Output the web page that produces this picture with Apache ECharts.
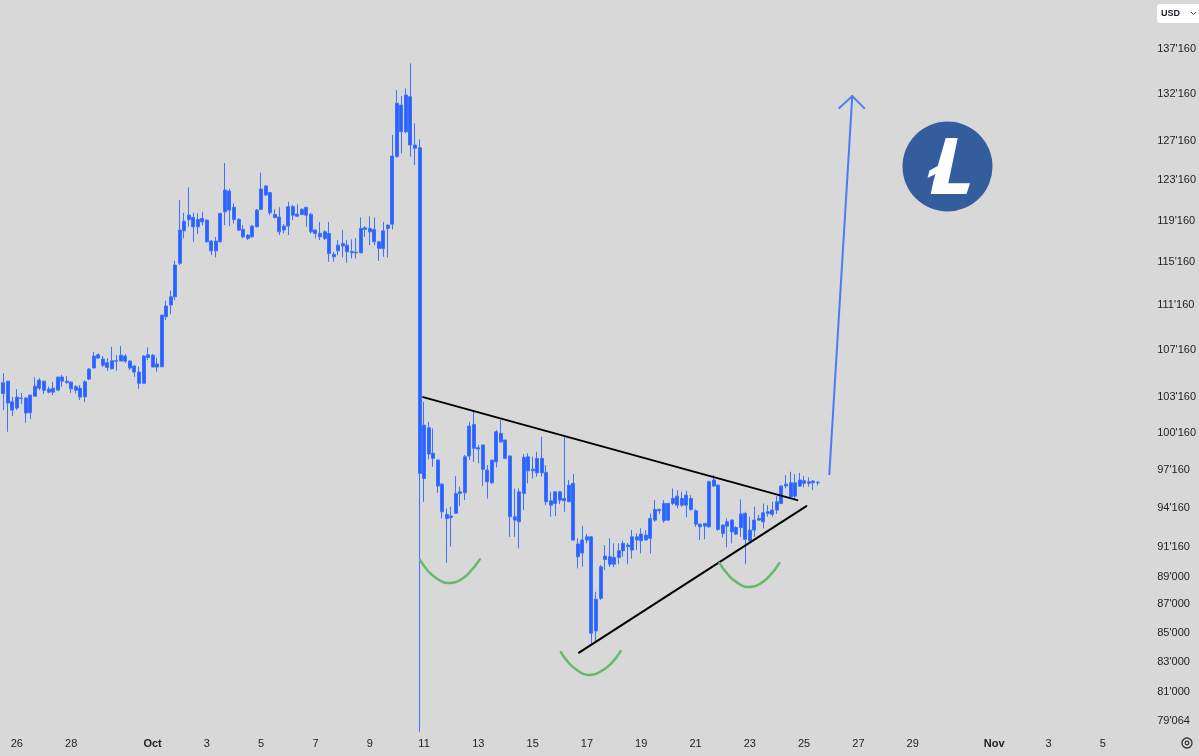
<!DOCTYPE html>
<html><head><meta charset="utf-8">
<script src="https://cdn.jsdelivr.net/npm/echarts@6/dist/echarts.min.js"></script>
<style>html,body{margin:0;padding:0;background:#d8d8d8;}#c{width:1199px;height:756px;}</style>
</head><body><div id="c"></div>
<script>
// ---- time slots (4-hour candles) ----
const slotStartUTC = Date.UTC(2025, 8, 25, 12); // Sep 25, 12:00
const slotHours = 4;
const slotCount = 252;

// ---- candles: [open, close, low, high] ----
const candles = [
[104330,103420,102020,105160],[104470,102610,100220,104470],[102720,102020,101520,103130],[102190,103110,102020,103790],
[103030,103000,102520,103470],[103030,101770,100960,103130],[101800,103280,101270,103280],[103190,104040,103190,104790],
[103870,104560,103700,104730],[104470,103700,103370,104470],[103790,103530,103420,103990],[103530,103870,103280,104390],
[103700,104820,103700,104820],[104820,104470,103990,104990],[104470,104330,104280,104900],[104390,103810,103470,104390],
[103990,103700,103420,104130],[103870,103110,102860,104130],[103130,104410,102690,104560],[104650,105510,104560,105600],
[105600,106640,105600,107010],[106460,106750,106440,106870],[106380,105850,105680,106640],[106060,105650,105360,106460],
[105530,106230,105480,107450],[106230,106190,105360,106720],[106200,106720,106200,107510],[106640,106200,106030,106810],
[106200,105600,105420,106290],[105770,105250,104840,105850],[105250,104280,103810,105710],[104280,106640,104280,106720],
[106520,106750,106290,107390],[106720,105680,105680,106810],[105680,105940,105280,106490],[105710,110280,105710,110280],
[110130,111100,109830,111590],[111190,111950,110350,112510],[111950,114900,111650,115300],[115060,118240,114900,121190],
[118170,119110,117440,119930],[119280,119700,118560,122460],[119470,118560,117110,119930],[118560,119280,117850,119870],
[119380,119040,118720,120030],[119210,117110,117050,119300],[117180,116250,115840,117270],[116250,117180,115620,117590],
[117110,119870,117050,119930],[120030,122190,118720,124920],[122090,120200,118630,122300],[120470,119280,118880,120870],
[119280,118240,118150,119400],[118310,117590,117440,118720],[117760,117440,117270,117850],[117590,118630,117500,118720],
[118560,120200,118500,120300],[120270,122290,120200,123940],[121690,122590,121590,122690],[121920,119930,119700,122000],
[119770,119470,119380,120270],[119530,118070,117760,120470],[118240,118630,117950,118820],[118630,120530,117760,121020],
[120530,119700,119210,120700],[119600,119800,119530,120770],[119770,120270,119700,120370],[120470,119700,118560,120500],
[119770,118070,117920,119930],[118240,117920,117440,118300],[117920,117590,117270,119040],[117440,118070,117270,118240],
[117920,116000,115210,119040],[115910,115680,115210,116150],[116250,116790,115840,117270],[116700,116950,115620,118240],
[116790,116150,115120,117270],[116190,116060,115530,117340],[116060,116120,115530,117460],[116060,118400,116000,119470],
[118310,118460,117590,118630],[118400,118070,116790,119600],[118310,117110,116790,119470],[117110,116480,115300,117110],
[116480,118170,115680,119040],[118400,118720,115620,118800],[118820,125640,118310,127830],[125570,131190,125500,132630],
[131000,128170,125920,131970],[128170,132090,128000,132810],[131900,126780,125570,135560],[126780,126440,124720,129050],
[126500,96860,78370,127370],[96460,100770,94630,102720],[100550,98410,97980,101050],[98470,98060,97380,100500],
[97920,95860,95330,97980],[96010,93860,93350,96100],[93660,93350,90010,94120],[93400,93530,91210,94240],
[93740,95280,93700,96640],[95280,95410,94290,95810],[95330,98190,94760,98330],[98250,100690,97920,101050],
[100830,98870,97780,102020],[98920,98810,97660,99140],[99140,97180,95860,99200],[97120,96200,94890,97520],
[96120,97920,96010,97950],[97780,100220,97330,100360],[100090,99400,99300,101190],[99540,98060,97980,99600],
[98250,93480,91950,98300],[93480,93220,91950,95670],[93090,95410,91090,95670],[95280,98140,93990,98410],
[98190,97060,96070,98470],[97060,97200,96460,98190],[96900,98060,96590,98590],[98060,96900,96590,99810],
[96940,94630,94370,97520],[94710,94370,93480,95410],[94500,95410,93530,95450],[95410,94760,94450,95450],
[94710,94890,93860,99790],[94630,95930,94600,96330],[96070,91710,91650,96800],[91410,90460,89600,91840],
[90740,91710,89720,92760],[91710,91950,91460,92160],[91950,84960,84260,92000],[85120,87360,84300,87900],
[87430,89720,87310,89850],[90260,90510,89480,91330],[90460,89910,89720,91840],[89910,90410,89680,91460],
[90410,90910,89910,91460],[90910,91460,90460,91660],[91330,91210,89910,91480],[90960,91950,90330,92460],
[91950,91710,90960,92210],[91660,92160,90710,92590],[92080,91710,91660,92460],[91840,93350,90710,93740],
[93220,94040,93090,94760],[94040,93940,93690,94100],[94500,93170,93020,94760],[93220,94500,93150,94550],
[94500,94890,94370,95670],[95070,94370,94120,95540],[94370,94890,94240,95410],[94370,95150,93430,95490],
[94890,94040,93940,95150],[93940,92910,92710,94040],[92910,92710,91710,92970],[92760,92970,91760,93000],
[92710,96200,92650,96280],[95860,96330,95800,96720],[95930,92510,92400,96000],[92840,92210,91900,92900],
[92760,93090,91160,93350],[93220,92330,91460,93270],[92160,92660,92080,92760],[92660,93690,91950,94810],
[93740,91760,89910,93860],[91660,92460,91580,93480],[92460,93220,91950,94240],[93220,93350,93170,93610],
[93090,93780,92590,94500],[93740,93860,93480,94370],[93660,93990,93480,94630],[93990,94630,93690,95070],
[94500,95860,94450,95930],[95860,96010,95670,96720],[96120,95010,94970,96990],[95070,96120,94890,96800],
[95860,96330,95810,96900],[96280,96070,95750,96640],[96070,96200,95810,96540],[96250,96120,95540,96330],
[96120,96160,95900,96250]
];

// ---- axis tick labels ----
const xTickLabels = [['09-26','26'],['09-28','28'],['10-01','Oct'],['10-03','3'],['10-05','5'],['10-07','7'],['10-09','9'],
  ['10-11','11'],['10-13','13'],['10-15','15'],['10-17','17'],['10-19','19'],['10-21','21'],['10-23','23'],['10-25','25'],
  ['10-27','27'],['10-29','29'],['11-01','Nov'],['11-03','3'],['11-05','5']];
const monthLabels = ['Oct','Nov'];
const yTicks = [79064,81000,83000,85000,87000,89000,91160,94160,97160,100160,103160,107160,111160,115160,119160,123160,127160,132160,137160];
const yMin = 78290, yMax = 142790;

// ---- drawn annotations: [slot index, price] ----
const upperTrend = [[92.79,103110],[175.5,94760]];
const lowerTrend = [[127.26,83620],[177.5,94300]];
const arcLeft  = [[92.12,90210],[93.89,89410],[95.65,88900],[98.30,88530],[100.95,88750],[103.15,89340],[105.36,90280]];
const arcMid   = [[123.23,83660],[124.99,82920],[126.76,82440],[129.19,82100],[131.83,82310],[134.26,82850],[136.46,83730]];
const arcRight = [[158.31,89990],[160.07,89190],[162.06,88600],[164.49,88240],[167.12,88460],[169.33,89040],[171.54,89990]];
const arrowShaft = [[182.57,96800],[187.64,131970]];
const arrowHead  = [[184.78,130680],[187.64,131970],[190.29,130680]];

// build categories
const pad = n => String(n).padStart(2,'0');
const categories = [];
for (let i = 0; i < slotCount; i++) {
  const d = new Date(slotStartUTC + i*slotHours*3600000);
  categories.push(pad(d.getUTCMonth()+1)+'-'+pad(d.getUTCDate())+' '+pad(d.getUTCHours())+':00');
}
const labelMap = {};
xTickLabels.forEach(([k,v]) => labelMap[k] = v);

const fmtPrice = v => String(Math.round(v)).replace(/\B(?=(\d{3})+(?!\d))/g, "'");

const chart = echarts.init(document.getElementById('c'), null, {renderer:'canvas'});
const annLine = (data, color, width, smooth) => ({
  type:'line', xAxisIndex:1, yAxisIndex:0, data, symbol:'none', silent:true, smooth: smooth || false,
  lineStyle:{color, width, cap:'round'}, z:5
});

chart.setOption({
  animation:false,
  backgroundColor:'#d8d8d8',
  textStyle:{fontFamily:'Liberation Sans, Arial, sans-serif'},
  grid:{left:1, top:0, width:1145.3, bottom:23, containLabel:false},
  xAxis:[{
    type:'category', data:categories, boundaryGap:true,
    axisLine:{show:false}, axisTick:{show:false}, splitLine:{show:false},
    axisLabel:{
      interval:(idx,val) => val.endsWith('00:00') && labelMap[val.slice(0,5)] !== undefined,
      formatter:(val) => { const t = labelMap[val.slice(0,5)]; return monthLabels.includes(t) ? '{b|'+t+'}' : t; },
      color:'#222', fontSize:11, margin:5,
      rich:{b:{fontWeight:'bold', color:'#222', fontSize:11}}
    }
  },{
    type:'value', min:-0.5, max:slotCount-0.5, show:false, position:'top'
  }],
  yAxis:[{
    type:'log', logBase:10, min:yMin, max:yMax, position:'right',
    axisLine:{show:false}, axisTick:{show:false}, splitLine:{show:false},
    axisLabel:{customValues:yTicks, formatter:fmtPrice, color:'#222', fontSize:11, margin:16}
  }],
  series:[
    {type:'candlestick', data:candles, barWidth:3.5,
     itemStyle:{color:'#2962ff', color0:'#2962ff', borderColor:'#3f72ff', borderColor0:'#3f72ff', borderColorDoji:'#3f72ff', borderWidth:1}},
    annLine(upperTrend, '#000', 2),
    annLine(lowerTrend, '#000', 2),
    annLine(arcLeft, '#66bb6a', 2.5, true),
    annLine(arcMid, '#66bb6a', 2.5, true),
    annLine(arcRight, '#66bb6a', 2.5, true),
    annLine(arrowShaft, '#4a7cf5', 2),
    annLine(arrowHead, '#4a7cf5', 2)
  ],
  graphic:{elements:[
    {type:'circle', shape:{cx:947.5, cy:166.5, r:45}, style:{fill:'#345d9d'}, silent:true},
    {type:'polygon', silent:true, style:{fill:'#ffffff'}, shape:{points:[
      [945.7,138],[957.7,138],[948.3,183.3],[970,183.3],[966.5,194],[930.7,194],[933.3,181.7],
      [935.5,174],[927.5,178],[929.5,170.5],[937.7,166]
    ]}},
    {type:'rect', shape:{x:1157, y:4, width:44, height:19, r:3}, style:{fill:'#ffffff'}, silent:true},
    {type:'text', x:1161, y:13.5, style:{text:'USD', fill:'#1a1a2e', font:'bold 9px Liberation Sans, Arial, sans-serif', verticalAlign:'middle'}, silent:true},
    {type:'polyline', shape:{points:[[1191,12],[1193.5,14.5],[1196,12]]}, style:{stroke:'#444', lineWidth:1, fill:null}, silent:true},
    {type:'circle', shape:{cx:1187, cy:743, r:5}, style:{fill:null, stroke:'#333', lineWidth:1.3}, silent:true},
    {type:'circle', shape:{cx:1187, cy:743, r:1.8}, style:{fill:null, stroke:'#333', lineWidth:1.2}, silent:true}
  ]}
});
</script></body></html>
